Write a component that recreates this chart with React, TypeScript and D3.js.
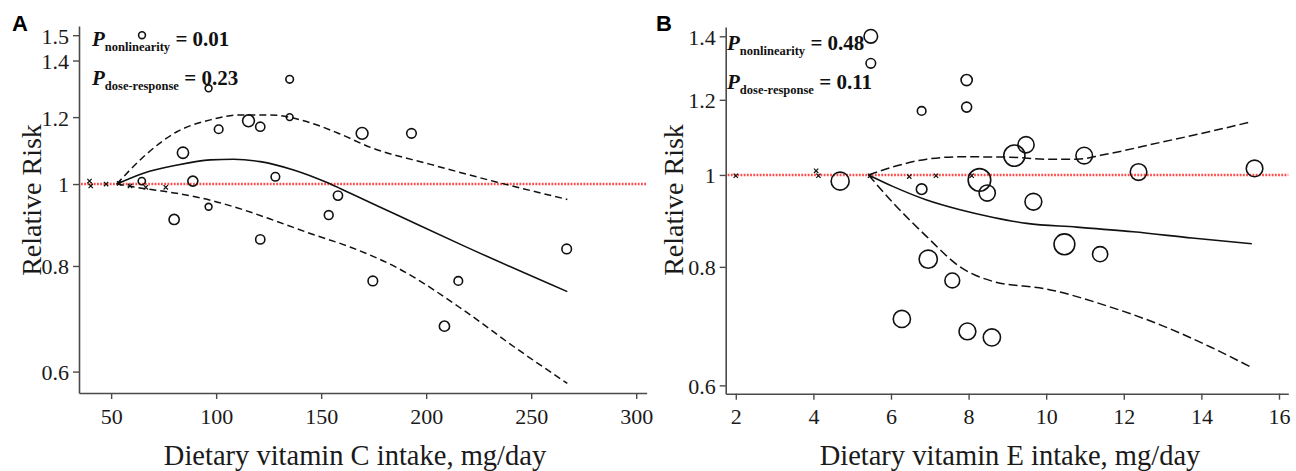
import React, { useEffect, useRef } from 'react';
import * as d3 from 'd3';

// ---- Panel A: dietary vitamin C intake (mg/day) ----
const vitCStudyDose = [64.7, 96.4, 135, 135, 101.2, 115.4, 121, 84.2, 88.9, 64.6, 128.2, 96.4, 80, 121, 153.6, 158, 169.5, 193, 174.6, 215.3, 208.7, 266.9];
const vitCStudyRR = [1.5, 1.298, 1.33, 1.2, 1.161, 1.188, 1.169, 1.089, 1.008, 1.008, 1.02, 0.94, 0.908, 0.86, 0.919, 0.969, 1.148, 1.148, 0.768, 0.768, 0.679, 0.838];
const vitCStudyWeight = [11.6, 11.6, 14.4, 11.6, 18.5, 34.8, 21.2, 31.4, 25, 13, 18.5, 11.6, 26, 21.2, 19.4, 21.2, 34.8, 23, 23, 18.5, 26, 23];
const vitCRefDose = [39.7, 40.3, 47.6, 53.8, 59, 66.5, 76];
const vitCRefRR = [1.008, 0.995, 1, 1.002, 0.995, 0.991, 0.991];

const vitCCurveDose = [52.7, 65.4, 81.3, 97.2, 108.3, 121, 136.9, 152.8, 163.9, 186.2, 217.9, 267.2];
const vitCCurveRR = [1, 1.03, 1.053, 1.068, 1.07, 1.063, 1.039, 1.004, 0.975, 0.919, 0.845, 0.746];
const vitCUpperDose = [52.7, 65.4, 81.3, 97.2, 111.5, 125.8, 141.7, 157.6, 173.5, 202.1, 233.8, 267.2];
const vitCUpperRR = [1, 1.077, 1.153, 1.191, 1.207, 1.207, 1.188, 1.15, 1.105, 1.055, 1.005, 0.959];
const vitCLowerDose = [52.7, 65.4, 81.3, 97.2, 113.1, 129, 144.8, 164, 186.2, 217.9, 241.8, 267.2];
const vitCLowerRR = [1, 0.988, 0.975, 0.957, 0.932, 0.903, 0.874, 0.842, 0.796, 0.709, 0.642, 0.581];

const vitCXTicks = [50, 100, 150, 200, 250, 300];
const vitCYTicks = [0.6, 0.8, 1, 1.2, 1.4, 1.5];

// ---- Panel B: dietary vitamin E intake (mg/day) ----
const vitEStudyDose = [5.48, 5.48, 6.79, 7.95, 7.95, 4.69, 6.79, 9.48, 9.18, 10.98, 12.38, 15.37, 8.28, 8.48, 9.67, 10.47, 11.39, 7.97, 8.6, 6.96, 7.58, 6.28];
const vitEStudyRR = [1.4, 1.311, 1.168, 1.259, 1.179, 0.985, 0.966, 1.076, 1.048, 1.048, 1.007, 1.016, 0.988, 0.957, 0.937, 0.845, 0.825, 0.684, 0.674, 0.815, 0.774, 0.705];
const vitEStudyWeight = [46.2, 23, 18.5, 31.4, 25, 81, 28.1, 65.6, 112.4, 68.9, 68.9, 68.9, 127.7, 65.6, 70.6, 108.2, 57.8, 70.6, 74, 82.8, 54.8, 74];
const vitERefDose = [2.0, 4.07, 4.13, 5.46, 6.47, 7.16, 8.08];
const vitERefRR = [0.998, 1.01, 0.998, 0.998, 0.996, 0.998, 0.998];

const vitECurveDose = [5.42, 6.06, 6.92, 7.78, 8.64, 9.5, 10.79, 12.24, 13.76, 15.3];
const vitECurveRR = [1, 0.972, 0.941, 0.919, 0.902, 0.889, 0.881, 0.871, 0.858, 0.846];
const vitEUpperDose = [5.42, 6.06, 6.92, 7.78, 9.07, 10.02, 10.79, 11.47, 12.94, 14.22, 15.3];
const vitEUpperRR = [1, 1.02, 1.039, 1.045, 1.044, 1.039, 1.039, 1.05, 1.082, 1.111, 1.138];
const vitELowerDose = [5.42, 6.06, 6.92, 7.78, 8.64, 10.02, 11.64, 12.94, 14.22, 15.25];
const vitELowerRR = [1, 0.934, 0.861, 0.8, 0.772, 0.758, 0.726, 0.695, 0.659, 0.628];

const vitEXTicks = [2, 4, 6, 8, 10, 12, 14, 16];
const vitEYTicks = [0.6, 0.8, 1, 1.2, 1.4];

const zip = (xs, ys) => xs.map((x, i) => [x, ys[i]]);

const serif = '"Liberation Serif", "Times New Roman", serif';

const panels = [
  {
    letter: 'A',
    letterX: 12,
    xDomain: [34.7, 305],
    yDomain: [0.566, 1.538],
    left: 79, right: 646.7, top: 26, bottom: 393,
    xTicks: vitCXTicks, yTicks: vitCYTicks,
    studies: vitCStudyDose.map((d, i) => ({ dose: d, rr: vitCStudyRR[i], w: vitCStudyWeight[i] })),
    refs: zip(vitCRefDose, vitCRefRR),
    fit: zip(vitCCurveDose, vitCCurveRR),
    upper: zip(vitCUpperDose, vitCUpperRR),
    lower: zip(vitCLowerDose, vitCLowerRR),
    dash: '7,4',
    xTitle: 'Dietary vitamin C intake, mg/day',
    xTitleX: 355,
    yTitleX: 41,
    pX: 92, pY1: 46, pY2: 85,
    pNonlin: '0.01', pDose: '0.23',
  },
  {
    letter: 'B',
    letterX: 656,
    xDomain: [1.74, 16.24],
    yDomain: [0.588, 1.432],
    left: 725.7, right: 1288.3, top: 27, bottom: 393.7,
    xTicks: vitEXTicks, yTicks: vitEYTicks,
    studies: vitEStudyDose.map((d, i) => ({ dose: d, rr: vitEStudyRR[i], w: vitEStudyWeight[i] })),
    refs: zip(vitERefDose, vitERefRR),
    fit: zip(vitECurveDose, vitECurveRR),
    upper: zip(vitEUpperDose, vitEUpperRR),
    lower: zip(vitELowerDose, vitELowerRR),
    dash: '9,4',
    xTitle: 'Dietary vitamin E intake, mg/day',
    xTitleX: 1010,
    yTitleX: 683,
    pX: 727, pY1: 50, pY2: 89,
    pNonlin: '0.48', pDose: '0.11',
  },
];

const App = () => {
  const svgRef = useRef(null);
  const svgWidth = 1296;
  const svgHeight = 471;

  useEffect(() => {
    const svg = d3.select(svgRef.current);
    svg.selectAll('*').remove();

    const rScale = d3.scaleSqrt().domain([0, 144]).range([0, 12]);
    const axisColor = '#4a4a4a';

    panels.forEach(p => {
      const x = d3.scaleLinear().domain(p.xDomain).range([p.left, p.right]);
      const y = d3.scaleLog().domain(p.yDomain).range([p.bottom, p.top]);
      const g = svg.append('g');

      // axes
      const xAxis = g.append('g')
        .attr('transform', `translate(0,${p.bottom})`)
        .call(d3.axisBottom(x).tickValues(p.xTicks).tickSize(6).tickSizeOuter(0).tickPadding(9).tickFormat(d3.format('d')));
      const yAxis = g.append('g')
        .attr('transform', `translate(${p.left},0)`)
        .call(d3.axisLeft(y).tickValues(p.yTicks).tickSize(6).tickSizeOuter(0).tickPadding(4)
          .tickFormat(d => (d === 1 ? '1' : d3.format('.1f')(d))));
      [xAxis, yAxis].forEach(a => {
        a.attr('font-family', serif).attr('font-size', 22);
        a.select('.domain').attr('stroke', axisColor).attr('stroke-width', 1.6);
        a.selectAll('.tick line').attr('stroke', axisColor).attr('stroke-width', 1.4);
        a.selectAll('.tick text')
          .attr('fill', '#1a1a1a')
          .style('font-family', serif)
          .style('font-size', '22px');
      });
      yAxis.selectAll('.tick text').attr('dy', '0.36em');

      // reference line at RR = 1
      g.append('line')
        .attr('x1', x(p.xDomain[0]) + 2).attr('x2', x(p.xDomain[1]))
        .attr('y1', y(1)).attr('y2', y(1))
        .attr('stroke', '#ff2a2a')
        .attr('stroke-opacity', 0.85)
        .attr('stroke-width', 2.4)
        .attr('stroke-dasharray', '1.8,1.4');

      // study-specific estimates
      g.selectAll('circle.study')
        .data(p.studies)
        .enter().append('circle')
        .attr('class', 'study')
        .attr('cx', d => x(d.dose))
        .attr('cy', d => y(d.rr))
        .attr('r', d => rScale(d.w))
        .attr('fill', 'none')
        .attr('stroke', '#111')
        .attr('stroke-width', 1.6);

      // reference categories
      const cross = d3.symbol(d3.symbolTimes, 14);
      g.selectAll('path.ref')
        .data(p.refs)
        .enter().append('path')
        .attr('class', 'ref')
        .attr('d', cross)
        .attr('transform', d => `translate(${x(d[0])},${y(d[1])})`)
        .attr('fill', 'none')
        .attr('stroke', '#111')
        .attr('stroke-width', 1.2);

      const line = d3.line().x(d => x(d[0])).y(d => y(d[1])).curve(d3.curveMonotoneX);
      g.append('path').attr('d', line(p.fit))
        .attr('fill', 'none').attr('stroke', '#111').attr('stroke-width', 1.6);
      [p.upper, p.lower].forEach(band => {
        g.append('path').attr('d', line(band))
          .attr('fill', 'none').attr('stroke', '#111').attr('stroke-width', 1.5)
          .attr('stroke-dasharray', p.dash);
      });

      // axis titles
      g.append('text')
        .attr('x', p.xTitleX).attr('y', 465)
        .attr('text-anchor', 'middle')
        .style('font-family', serif).style('font-size', '28.5px')
        .attr('fill', '#1a1a1a')
        .text(p.xTitle);
      g.append('text')
        .attr('transform', `translate(${p.yTitleX},200) rotate(-90)`)
        .attr('text-anchor', 'middle')
        .style('font-family', serif).style('font-size', '28px')
        .attr('fill', '#1a1a1a')
        .text('Relative Risk');

      // panel letter
      g.append('text')
        .attr('x', p.letterX).attr('y', 31)
        .style('font-family', '"Liberation Sans", Arial, sans-serif')
        .style('font-size', '22px').style('font-weight', 'bold')
        .text(p.letter);

      // p-values
      const pv = (yy, sub, val) => {
        const t = g.append('text')
          .attr('x', p.pX).attr('y', yy)
          .style('font-family', serif).style('font-weight', 'bold')
          .attr('fill', '#111');
        t.append('tspan').style('font-size', '21px').style('font-style', 'italic').text('P');
        t.append('tspan').attr('dy', 5).style('font-size', '12.5px').text(sub);
        t.append('tspan').attr('dy', -5).style('font-size', '21px').text(` = ${val}`);
      };
      pv(p.pY1, 'nonlinearity', p.pNonlin);
      pv(p.pY2, 'dose-response', p.pDose);
    });
  }, []);

  return (
    <svg
      ref={svgRef}
      width={svgWidth}
      height={svgHeight}
      style={{ position: 'absolute', left: 0, top: 0, background: '#fff' }}
    />
  );
};

export default App;
